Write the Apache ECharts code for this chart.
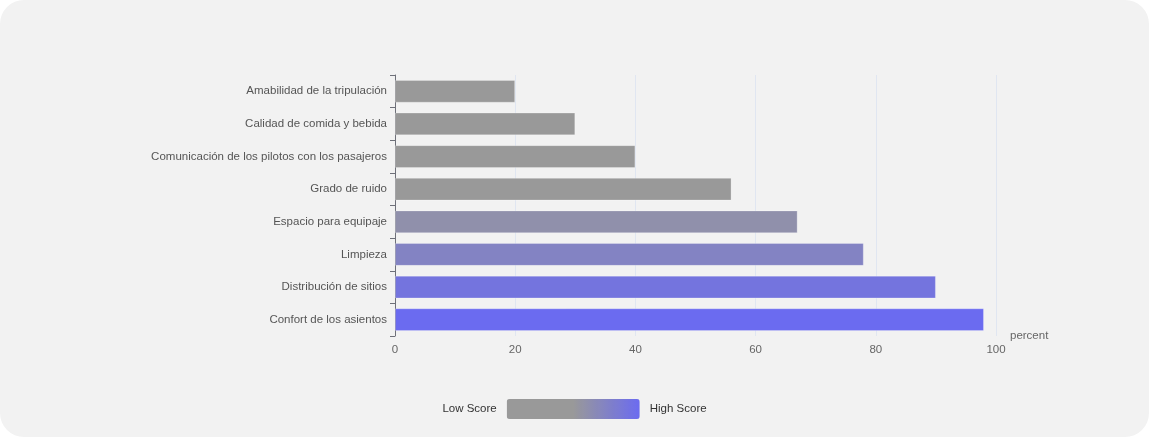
<!DOCTYPE html>
<html><head><meta charset="utf-8">
<script src="https://cdn.jsdelivr.net/npm/echarts@6/dist/echarts.min.js"></script>
<style>
html,body{margin:0;padding:0;background:#fff;}
#c{width:1149px;height:437px;background:#f2f2f2;border-radius:24px;overflow:hidden;}
</style></head><body>
<div id="c"></div>
<script>
var categories = ["Amabilidad de la tripulación","Calidad de comida y bebida","Comunicación de los pilotos con los pasajeros","Grado de ruido","Espacio para equipaje","Limpieza","Distribución de sitios","Confort de los asientos"];
var values = [20, 30, 40, 56, 67, 78, 90, 98];
var xTicks = [0, 20, 40, 60, 80, 100];
var chart = echarts.init(document.getElementById('c'));
chart.setOption({
  backgroundColor: 'transparent',
  textStyle: {fontFamily: 'Liberation Sans, Arial, sans-serif'},
  grid: {left: 395, right: 153, top: 75, bottom: 101},
  xAxis: {
    type: 'value', min: xTicks[0], max: xTicks[xTicks.length-1], interval: 20,
    name: 'percent', nameGap: 14,
    nameTextStyle: {color: '#666', fontSize: 11.5},
    axisLine: {show: false}, axisTick: {show: false},
    axisLabel: {color: '#666', fontSize: 11.5, margin: 8},
    splitLine: {lineStyle: {color: '#e0e6f1'}}
  },
  yAxis: {
    type: 'category', data: categories, inverse: true,
    axisLine: {show: true, lineStyle: {color: '#6e7079'}},
    axisTick: {show: true, lineStyle: {color: '#6e7079'}},
    axisLabel: {color: '#555', fontSize: 11.5, margin: 8}
  },
  visualMap: {
    type: 'continuous', orient: 'horizontal', left: 'center', bottom: 3,
    min: 20, max: 98, calculable: false,
    itemWidth: 20, itemHeight: 133,
    text: ['High Score', 'Low Score'],
    textGap: 10,
    textStyle: {color: '#333', fontSize: 11.5},
    inRange: {color: ['#999999', '#999999', '#6b6bf0']},
    dimension: 0
  },
  series: [{
    type: 'bar', data: values, barWidth: '70%',
    itemStyle: {borderWidth: 1, borderColor: 'rgba(255,255,255,0.25)'}
  }]
});
</script></body></html>
